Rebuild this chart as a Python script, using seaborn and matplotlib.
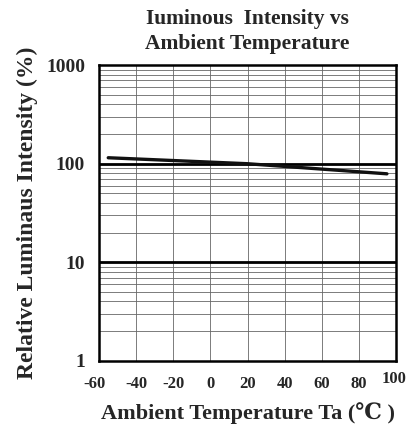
import matplotlib
matplotlib.use("Agg")
import matplotlib.pyplot as plt
import matplotlib.transforms as mtransforms
import seaborn as sns
import pandas as pd
from matplotlib.ticker import FixedLocator, NullFormatter

sns.set_theme(style="white")
plt.rcParams['font.family'] = ['Liberation Serif', 'DejaVu Serif', 'DejaVu Sans']

temperature = [-55, 20, 95]
intensity = [115, 100, 79]
x_ticks = [-60, -40, -20, 0, 20, 40, 60, 80, 100]
y_ticks = [1, 10, 100, 1000]
y_tick_labels = ["1", "10", "100", "1000"]

df = pd.DataFrame({"Ta": temperature, "I": intensity})

fig = plt.figure(figsize=(4.14, 4.26), dpi=100)
ax = fig.add_axes([0.239, 0.153, 0.718, 0.694])
ax.set_yscale("log")
ax.set_xlim(-60, 100)
ax.set_ylim(1, 1000)

# grid
minor = [m * 10 ** d for d in range(0, 3) for m in range(2, 10)]
for v in minor:
    ax.axhline(v, color="#666666", lw=0.6, zorder=1)
for v in [10, 100]:
    ax.axhline(v, color="black", lw=2.0, zorder=2)
for v in x_ticks[1:-1]:
    ax.axvline(v, color="#666666", lw=0.6, zorder=1)

sns.lineplot(data=df, x="Ta", y="I", ax=ax, color="#111111", lw=2.4, zorder=3)

ax.yaxis.set_major_locator(FixedLocator(y_ticks))
ax.yaxis.set_minor_locator(FixedLocator(minor))
ax.yaxis.set_minor_formatter(NullFormatter())
ax.set_yticklabels(y_tick_labels, fontsize=14, fontweight="bold")
ax.set_xticks(x_ticks)
ax.set_xticklabels([str(t) for t in x_ticks], fontsize=12, fontweight="bold")
ax.tick_params(axis="y", which="both", length=0, pad=10)
ax.tick_params(axis="x", which="both", length=0, pad=11)
for lbl in ax.get_xticklabels():
    if lbl.get_text() == "100":
        lbl.set_transform(lbl.get_transform() +
                          mtransforms.ScaledTranslation(-2 / 100, 5 / 100, fig.dpi_scale_trans))
    if lbl.get_text() == "-60":
        lbl.set_transform(lbl.get_transform() +
                          mtransforms.ScaledTranslation(-4 / 100, 0, fig.dpi_scale_trans))

for s in ax.spines.values():
    s.set_color("black")
    s.set_linewidth(1.8)

ax.set_xlabel("Ambient Temperature Ta (\u2103 )", fontsize=16, fontweight="bold", labelpad=7)
ax.set_ylabel("Relative Luminaus Intensity (%)", fontsize=17, fontweight="bold", labelpad=6)
ax.set_title("Iuminous  Intensity vs\nAmbient Temperature", fontsize=15.5, fontweight="bold",
             pad=12, linespacing=1.3)

fig.savefig("out.png", dpi=100)
